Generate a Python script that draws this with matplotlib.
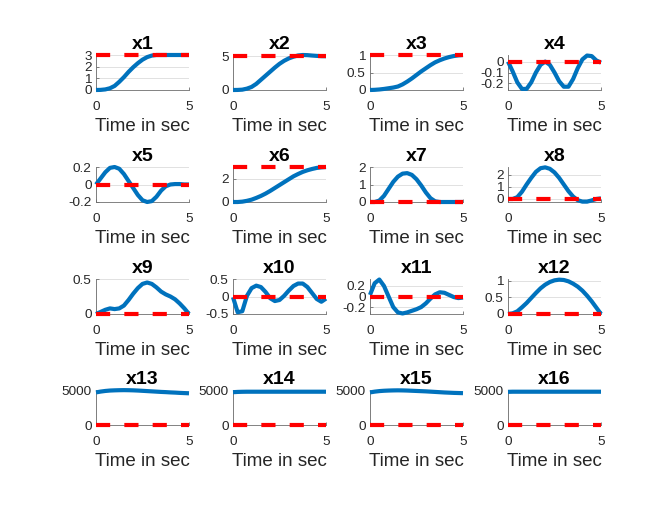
import matplotlib
matplotlib.use("Agg")
import matplotlib.pyplot as plt
import numpy as np

plt.rcParams['font.family'] = ['Liberation Sans', 'DejaVu Sans']

t = [0.0, 0.25, 0.5, 0.75, 1.0, 1.25, 1.5, 1.75, 2.0, 2.25, 2.5,
     2.75, 3.0, 3.25, 3.5, 3.75, 4.0, 4.25, 4.5, 4.75, 5.0]

names = ["x%d" % i for i in range(1, 17)]

x1 = [0, 0.01, 0.05, 0.15, 0.35, 0.7, 1.1, 1.55, 1.95, 2.3, 2.6, 2.82, 2.95, 3.0, 3.0, 3.0, 3.0, 3.0, 3.0, 3.0, 3.0]
x2 = [0, 0.01, 0.05, 0.2, 0.45, 0.9, 1.5, 2.1, 2.7, 3.3, 3.85, 4.3, 4.65, 4.9, 5.08, 5.15, 5.13, 5.07, 5.02, 4.98, 4.97]
x3 = [0, 0.005, 0.015, 0.03, 0.05, 0.07, 0.1, 0.16, 0.24, 0.33, 0.43, 0.53, 0.62, 0.71, 0.79, 0.85, 0.9, 0.94, 0.97, 0.99, 1.0]
x4 = [0, -0.09, -0.19, -0.25, -0.25, -0.19, -0.1, -0.03, 0.0, -0.03, -0.1, -0.18, -0.23, -0.23, -0.16, -0.06, 0.02, 0.055, 0.05, 0.01, -0.01]
x5 = [0, 0.07, 0.14, 0.19, 0.2, 0.18, 0.12, 0.04, -0.04, -0.12, -0.18, -0.2, -0.19, -0.14, -0.07, -0.02, 0.0, 0.005, 0.005, 0.0, 0.0]
x6 = [0, 0, 0.03, 0.1, 0.2, 0.35, 0.52, 0.72, 0.95, 1.2, 1.45, 1.7, 1.95, 2.2, 2.4, 2.58, 2.72, 2.83, 2.92, 2.97, 3.0]
x7 = [0, 0, 0.08, 0.35, 0.75, 1.15, 1.45, 1.62, 1.65, 1.55, 1.3, 0.95, 0.55, 0.22, 0.04, 0, 0, 0, 0, 0, 0]
x8 = [0, 0.0, 0.15, 0.6, 1.2, 1.75, 2.25, 2.55, 2.62, 2.5, 2.2, 1.75, 1.2, 0.65, 0.2, -0.1, -0.22, -0.22, -0.12, 0.0, 0.05]
x9 = [0, 0.03, 0.06, 0.08, 0.07, 0.08, 0.12, 0.2, 0.29, 0.37, 0.43, 0.45, 0.43, 0.38, 0.32, 0.28, 0.25, 0.21, 0.15, 0.08, 0.0]
x10 = [-0.02, -0.45, -0.42, 0.02, 0.24, 0.31, 0.27, 0.13, -0.05, -0.13, -0.1, 0.02, 0.17, 0.3, 0.37, 0.37, 0.27, 0.1, -0.07, -0.15, -0.06]
x11 = [0.03, 0.25, 0.32, 0.2, 0.0, -0.2, -0.3, -0.32, -0.3, -0.27, -0.24, -0.2, -0.13, -0.04, 0.04, 0.08, 0.07, 0.03, -0.01, -0.03, -0.02]
x12 = [0, 0.02, 0.08, 0.2, 0.33, 0.48, 0.63, 0.77, 0.88, 0.96, 1.01, 1.03, 1.02, 0.98, 0.91, 0.82, 0.7, 0.55, 0.38, 0.19, 0.0]
x13 = [4750, 4870, 4960, 5020, 5050, 5070, 5080, 5070, 5050, 5020, 4980, 4940, 4900, 4860, 4820, 4790, 4750, 4720, 4680, 4650, 4620]
x14 = [4780, 4820, 4840, 4850, 4850, 4850, 4850, 4850, 4850, 4850, 4850, 4850, 4850, 4850, 4850, 4850, 4850, 4850, 4850, 4850, 4850]
x15 = [4750, 4860, 4940, 4990, 5020, 5040, 5050, 5040, 5020, 4990, 4960, 4930, 4900, 4860, 4820, 4780, 4740, 4710, 4680, 4660, 4640]
x16 = [4830, 4850, 4850, 4850, 4850, 4850, 4850, 4850, 4850, 4850, 4850, 4850, 4850, 4850, 4850, 4850, 4850, 4850, 4850, 4850, 4850]

series = [x1, x2, x3, x4, x5, x6, x7, x8, x9, x10, x11, x12, x13, x14, x15, x16]
refs = [3, 5, 1, 0, 0, 3, 0, 0, 0, 0, 0, 0, 0, 0, 0, 0]

ylims = [(0, 3), (0, 5.15), (0, 1), (-0.26, 0.06), (-0.2, 0.2), (0, 3), (0, 2), (-0.25, 2.65),
         (0, 0.5), (-0.5, 0.5), (-0.33, 0.33), (0, 1.05), (0, 5100), (0, 5100), (0, 5100), (0, 5100)]
yticks = [[0, 1, 2, 3], [0, 5], [0, 0.5, 1], [-0.2, -0.1, 0], [-0.2, 0, 0.2], [0, 2], [0, 1, 2], [0, 1, 2],
          [0, 0.5], [-0.5, 0, 0.5], [-0.2, 0, 0.2], [0, 0.5, 1], [0, 5000], [0, 5000], [0, 5000], [0, 5000]]
xticks = [0, 5]
xlabel = "Time in sec"

W, H = 664, 508
fig = plt.figure(figsize=(W / 100, H / 100), dpi=100)
lefts = [96, 233, 370, 508]
tops = [55, 167, 279, 390]
aw, ah = 93, 35

for i in range(16):
    r, c = divmod(i, 4)
    ax = fig.add_axes([lefts[c] / W, 1 - (tops[r] + ah) / H, aw / W, ah / H])
    ax.plot(t, series[i], color='#0072BD', lw=3.0, solid_capstyle='butt',
            zorder=3, clip_on=False)
    ax.plot([t[0], t[-1]], [refs[i], refs[i]], color='#FF0000', lw=3.0,
            linestyle=(0, (3.4, 3.4)), dash_capstyle='butt', zorder=4, clip_on=False)
    ax.set_xlim(0, 5)
    ax.set_ylim(*ylims[i])
    ax.set_xticks(xticks)
    ax.set_yticks(yticks[i])
    ax.set_yticklabels(["%g" % v for v in yticks[i]])
    ax.grid(True, color='#dcdcdc', lw=0.6, zorder=0)
    ax.set_axisbelow(True)
    for s in ['top', 'right']:
        ax.spines[s].set_visible(False)
    for s in ['left', 'bottom']:
        ax.spines[s].set_color('#6e6e6e')
        ax.spines[s].set_linewidth(0.6)
    ax.tick_params(direction='in', length=2, width=0.6, color='#6e6e6e',
                   labelsize=9.7, labelcolor='#262626', pad=3)
    ax.tick_params(axis='x', pad=8)
    ax.set_title(names[i], fontsize=14, fontweight='bold', pad=4.5, color='black')
    ax.set_xlabel(xlabel, fontsize=13.5, color='#262626', labelpad=3.5)

fig.savefig("out.png", dpi=100)
